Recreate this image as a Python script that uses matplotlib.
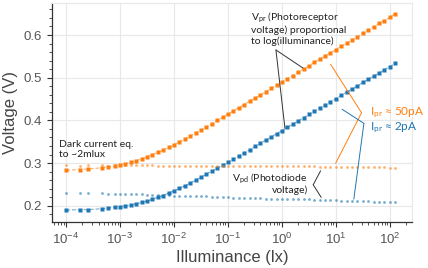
import numpy as np
import matplotlib
matplotlib.use("Agg")
import matplotlib.pyplot as plt

# illuminance sample points, as log10(lux)
log_lux = [-4.0, -3.74, -3.6, -3.34, -3.22, -3.1, -3.0,
           -2.9, -2.8, -2.7, -2.6, -2.5, -2.4, -2.3, -2.2, -2.1, -2.0,
           -1.9, -1.8, -1.7, -1.6, -1.5, -1.4, -1.3, -1.2, -1.1, -1.0,
           -0.9, -0.8, -0.7, -0.6, -0.5, -0.4, -0.3, -0.2, -0.1, 0.0,
           0.1, 0.2, 0.3, 0.4, 0.5, 0.6, 0.7, 0.8, 0.9, 1.0,
           1.1, 1.2, 1.3, 1.4, 1.5, 1.6, 1.7, 1.8, 1.9, 2.0, 2.1]

# photoreceptor voltage, Ipr ~ 50pA
vpr_50 = [0.283, 0.285, 0.286, 0.289, 0.291, 0.293, 0.296,
          0.299, 0.302, 0.306, 0.310, 0.315, 0.320, 0.325, 0.331, 0.337, 0.343,
          0.350, 0.357, 0.364, 0.371, 0.378, 0.385, 0.392, 0.400, 0.407, 0.415,
          0.422, 0.430, 0.437, 0.445, 0.452, 0.460, 0.467, 0.475, 0.482, 0.490,
          0.498, 0.505, 0.513, 0.520, 0.528, 0.536, 0.543, 0.551, 0.558, 0.566,
          0.574, 0.581, 0.589, 0.596, 0.604, 0.612, 0.619, 0.627, 0.634, 0.642, 0.650]

# photoreceptor voltage, Ipr ~ 2pA
vpr_2 = [0.190, 0.191, 0.191, 0.193, 0.195, 0.196, 0.198,
         0.200, 0.202, 0.205, 0.208, 0.211, 0.215, 0.220, 0.224, 0.230, 0.235,
         0.241, 0.247, 0.253, 0.260, 0.267, 0.274, 0.281, 0.288, 0.295, 0.302,
         0.309, 0.317, 0.324, 0.331, 0.339, 0.346, 0.354, 0.361, 0.369, 0.376,
         0.384, 0.391, 0.399, 0.406, 0.414, 0.421, 0.429, 0.436, 0.444, 0.451,
         0.459, 0.466, 0.474, 0.481, 0.489, 0.496, 0.504, 0.511, 0.519, 0.526, 0.534]

# photodiode voltage, Ipr ~ 50pA
vpd_50 = [0.295, 0.294, 0.295, 0.295, 0.294, 0.295, 0.295,
          0.295, 0.295, 0.295, 0.295, 0.295, 0.295, 0.294, 0.294, 0.294, 0.294,
          0.294, 0.294, 0.294, 0.294, 0.294, 0.294, 0.294, 0.294, 0.294, 0.294,
          0.294, 0.294, 0.294, 0.294, 0.293, 0.293, 0.293, 0.293, 0.293, 0.293,
          0.293, 0.293, 0.293, 0.293, 0.293, 0.293, 0.292, 0.292, 0.292, 0.292,
          0.292, 0.292, 0.291, 0.291, 0.291, 0.291, 0.290, 0.290, 0.290, 0.289, 0.289]

# photodiode voltage, Ipr ~ 2pA
vpd_2 = [0.229, 0.229, 0.229, 0.229, 0.228, 0.228, 0.228,
         0.228, 0.227, 0.227, 0.227, 0.226, 0.226, 0.226, 0.225, 0.225, 0.224,
         0.224, 0.224, 0.223, 0.223, 0.222, 0.222, 0.221, 0.221, 0.220, 0.220,
         0.219, 0.219, 0.219, 0.218, 0.218, 0.218, 0.217, 0.217, 0.217, 0.216,
         0.216, 0.216, 0.215, 0.215, 0.215, 0.214, 0.214, 0.214, 0.213, 0.213,
         0.212, 0.212, 0.212, 0.211, 0.211, 0.211, 0.210, 0.210, 0.210, 0.209, 0.209]

ORANGE = "#ff7f0e"
BLUE = "#1f77b4"
TEXT = "#222222"

plt.rcParams["font.family"] = ["Liberation Sans", "DejaVu Sans"]
plt.rcParams["mathtext.fontset"] = "custom"
plt.rcParams["mathtext.rm"] = "Lato"
plt.rcParams["mathtext.it"] = "Lato:italic"
ANNOT_FONT = ["Lato", "DejaVu Sans"]

lux = 10 ** np.array(log_lux)

fig = plt.figure(figsize=(4.28, 2.68), dpi=100)
ax = fig.add_axes([0.1215, 0.1716, 0.8411, 0.8172])

# Vpr: squares joined by a faint dashed line
for v, c in [(vpr_50, ORANGE), (vpr_2, BLUE)]:
    ax.plot(lux, v, ls="--", lw=0.8, color=c, alpha=0.6, zorder=2)
    ax.plot(lux, v, ls="none", marker="s", ms=2.2, mec="none", color=c, zorder=3)

# Vpd: lighter round dots
for v, c in [(vpd_50, ORANGE), (vpd_2, BLUE)]:
    ax.plot(lux, v, ls="none", marker="o", ms=2.0, mec="none", color=c, alpha=0.6, zorder=3)

ax.set_xscale("log")
ax.set_xlim(10 ** -4.26, 10 ** 2.41)
ax.set_ylim(0.162, 0.675)
ax.set_yticks([0.2, 0.3, 0.4, 0.5, 0.6])
ax.set_yticks(np.arange(0.18, 0.675, 0.02), minor=True)
ax.set_xticks([1e-4, 1e-3, 1e-2, 1e-1, 1e0, 1e1, 1e2])
ax.xaxis.set_minor_locator(matplotlib.ticker.LogLocator(base=10, subs=np.arange(2, 10), numticks=20))
ax.xaxis.set_minor_formatter(matplotlib.ticker.NullFormatter())

ax.grid(True, which="major", color="#e8e8e8", lw=0.8, zorder=0)
ax.set_axisbelow(True)
for side in ["top", "right"]:
    ax.spines[side].set_color("#e8e8e8")
for side in ["left", "bottom"]:
    ax.spines[side].set_color("#333333")
    ax.spines[side].set_linewidth(0.9)
ax.tick_params(which="major", length=3.5, width=0.8, color="#333333",
               labelsize=9.5, labelcolor="#555555")
ax.tick_params(which="minor", length=2, width=0.6, color="#333333")

ax.set_xlabel("Illuminance (lx)", fontsize=12, color="#444444", labelpad=2)
ax.set_ylabel("Voltage (V)", fontsize=12, color="#444444", labelpad=4)


def leader(start, end, color, lw=0.7):
    ax.annotate("", xy=end, xytext=start,
                arrowprops=dict(arrowstyle="-", color=color, lw=lw,
                                shrinkA=0, shrinkB=0))


def note(x, y, s, **kw):
    kw.setdefault("fontsize", 7.5)
    kw.setdefault("color", TEXT)
    ax.text(x, y, s, family=ANNOT_FONT, linespacing=1.15, **kw)


# Vpr label (first line separate so the subscript doesn't stretch the spacing)
note(0.263, 0.635, "V$_\\mathrm{pr}$ (Photoreceptor", ha="left", va="baseline")
note(0.263, 0.598, "voltage) proportional\nto log(illuminance)", ha="left", va="center")
leader((0.774, 0.565), (2.45, 0.5227), "#333333")
leader((0.774, 0.565), (1.137, 0.382), "#333333")

# dark current label
note(7.5e-5, 0.331, "Dark current eq.\nto ~2mlux", ha="left", va="center")

# Vpd label
note(3.03, 0.2567, "V$_\\mathrm{pd}$ (Photodiode", ha="right", va="baseline")
note(3.03, 0.2368, "voltage)", ha="right", va="center")
leader((3.80, 0.2492), (5.21, 0.282), "#333333")
leader((3.80, 0.2492), (5.35, 0.2197), "#333333")

# bias current labels
note(42.7, 0.4125, "I$_\\mathrm{pr}$ \u2248 50pA", fontsize=8.5, color=ORANGE,
     ha="left", va="baseline")
leader((29.9, 0.4179), (7.98, 0.5313), ORANGE)
leader((29.9, 0.4179), (9.86, 0.2994), ORANGE)

note(42.7, 0.3774, "I$_\\mathrm{pr}$ \u2248 2pA", fontsize=8.5, color=BLUE,
     ha="left", va="baseline")
leader((33.0, 0.3931), (13.1, 0.4259), BLUE)
leader((33.0, 0.3931), (21.5, 0.2157), BLUE)

fig.savefig("out.png", dpi=100)
